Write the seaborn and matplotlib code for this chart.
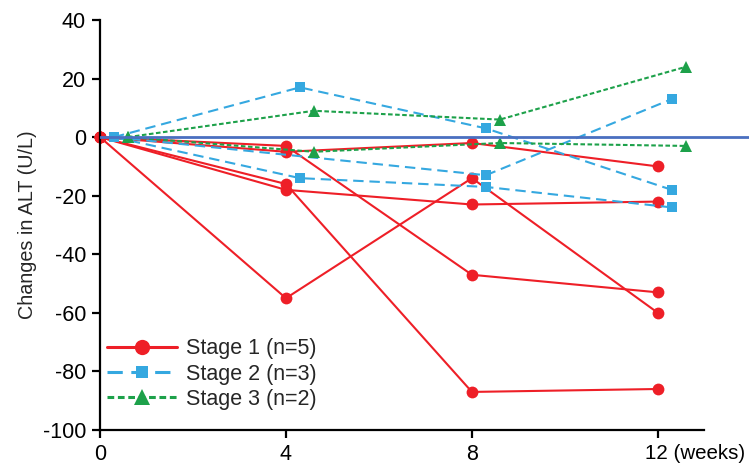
import numpy as np
import pandas as pd
import seaborn as sns
import matplotlib.pyplot as plt
import matplotlib.transforms as mtransforms

# values: change in ALT (U/L) at 0, 4, 8, 12 weeks
weeks = [0, 4, 8, 12]
stage1 = [
    [0, -55, -14, -60],
    [0, -5, -2, -10],
    [0, -3, -47, -53],
    [0, -16, -87, -86],
    [0, -18, -23, -22],
]
stage2 = [
    [0, 17, 3, -18],
    [0, np.nan, -13, 13],   # no 4-week value
    [0, -14, -17, -24],
]
stage3 = [
    [0, 9, 6, 24],
    [0, -5, -2, -3],
]
stage_names = ["Stage 1 (n=5)", "Stage 2 (n=3)", "Stage 3 (n=2)"]
x_shift = {"Stage 1 (n=5)": 0.0, "Stage 2 (n=3)": 0.3, "Stage 3 (n=2)": 0.6}

rows = []
for name, group in zip(stage_names, [stage1, stage2, stage3]):
    for i, vals in enumerate(group):
        for w, v in zip(weeks, vals):
            rows.append({"week": w + x_shift[name], "change": v,
                         "stage": name, "subject": f"{name}-{i}"})
df = pd.DataFrame(rows).dropna()

sns.set_style("ticks")
plt.rcParams["font.family"] = ["Liberation Sans", "DejaVu Sans"]
plt.rcParams["axes.unicode_minus"] = False

palette = {"Stage 1 (n=5)": "#EE1F27", "Stage 2 (n=3)": "#35A8E0", "Stage 3 (n=2)": "#1DA14A"}
markers = {"Stage 1 (n=5)": "o", "Stage 2 (n=3)": "s", "Stage 3 (n=2)": "^"}
dashes = {"Stage 1 (n=5)": "", "Stage 2 (n=3)": (5, 2.8), "Stage 3 (n=2)": (2.2, 1.2)}
msize = {"o": 8.5, "s": 7.8, "^": 9}
leg_msize = {"o": 11, "s": 9, "^": 11}

fig = plt.figure(figsize=(7.49, 4.66), dpi=100)
ax = fig.add_axes([100 / 749, 36 / 466, 649 / 749, 410 / 466])

sns.lineplot(data=df, x="week", y="change", hue="stage", style="stage",
             units="subject", estimator=None, palette=palette,
             markers=markers, dashes=dashes, linewidth=1.5,
             markeredgewidth=0, ax=ax, legend=True)

for ln in ax.lines:
    ln.set_clip_on(False)
    if ln.get_marker() in msize:
        ln.set_markersize(msize[ln.get_marker()])

ax.axhline(0, color="#4A6FC0", lw=2, zorder=5)

ax.set_xlim(0, 13.96)
ax.set_ylim(-100, 40)
ax.set_xticks(weeks)
ax.set_xticklabels(["0", "4", "8", "12 (weeks)"])
ax.set_yticks(range(-100, 41, 20))
ax.spines["bottom"].set_bounds(0, 13)
ax.spines["right"].set_visible(False)
ax.spines["top"].set_visible(False)
for s in ["left", "bottom"]:
    ax.spines[s].set_linewidth(1.6)
    ax.spines[s].set_color("black")
ax.tick_params(axis="both", direction="out", length=6, width=1.6,
               labelsize=15.5, colors="black", pad=4)
ax.set_xlabel("")
ax.set_ylabel("Changes in ALT (U/L)", fontsize=14.2, labelpad=4)

last = ax.get_xticklabels()[-1]
last.set_fontsize(14.8)
last.set_horizontalalignment("left")
last.set_transform(last.get_transform() +
                   mtransforms.ScaledTranslation(-0.125, 0, fig.dpi_scale_trans))

handles, labels = ax.get_legend_handles_labels()
for h in handles:
    h.set_markersize(leg_msize.get(h.get_marker(), 10))
    h.set_linewidth(2.2)
leg = ax.legend(handles, labels, loc="lower left", bbox_to_anchor=(-0.0025, 0.028),
                frameon=False, fontsize=15.5, handlelength=3.25,
                handletextpad=0.42, labelspacing=0.2, borderaxespad=0)

fig.savefig("out.png", dpi=100)
